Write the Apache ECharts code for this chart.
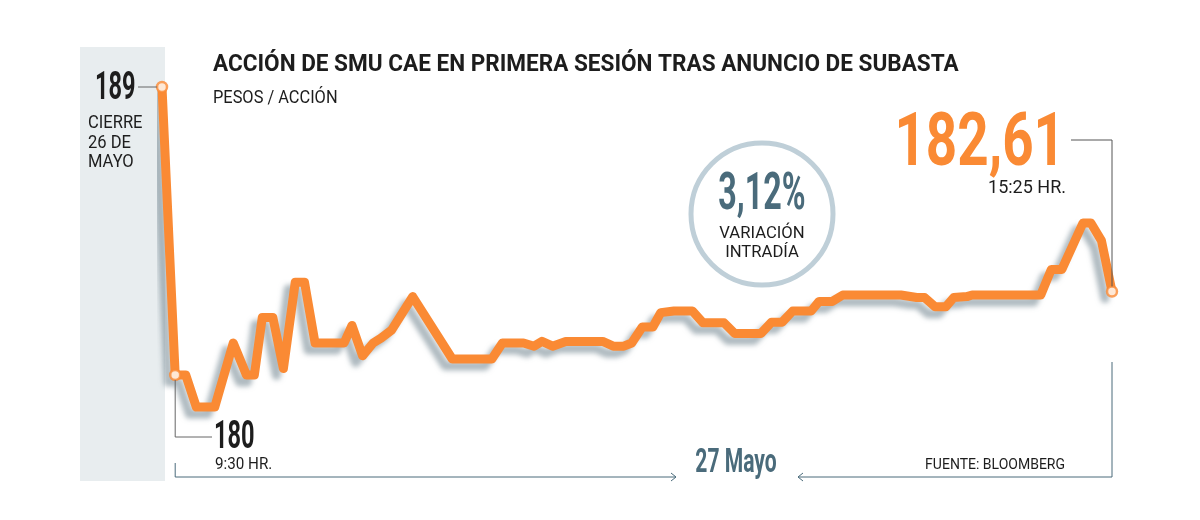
<!DOCTYPE html>
<html>
<head>
<meta charset="utf-8">
<script src="https://cdn.jsdelivr.net/npm/echarts@6/dist/echarts.min.js"></script>
<style>html,body{margin:0;padding:0;background:#fff}#c{width:1200px;height:520px}</style>
</head>
<body>
<div id="c"></div>
<script>
// minutes from market open (9:30); -5 = previous close (26 de mayo)
const minutes = [-5,0,4,8,15,22,27,30,33,37,41,45.5,49,53,64,67,71,75,78,82,90,105,120,124,132,136,139,143,148,162,166,170,173,177,181,184,189,196,200,208,212,222,226,230,234,241,244,249,253,275,281,284,288,292,295,300,302,328,332,336,344,347,351,355];
const prices = [189,180,180,179,179,181,180,180,181.8,181.8,180.2,182.9,182.9,181,181,181.55,180.6,181,181.15,181.4,182.45,180.5,180.5,181,181,180.9,181.05,180.9,181.05,181.05,180.9,180.9,181,181.5,181.5,181.95,182,182,181.63,181.63,181.3,181.3,181.65,181.65,182,182,182.3,182.3,182.5,182.5,182.42,182.42,182.13,182.13,182.42,182.45,182.5,182.5,183.3,183.3,184.75,184.75,184.2,182.61];
const titleText = 'ACCIÓN DE SMU CAE EN PRIMERA SESIÓN TRAS ANUNCIO DE SUBASTA';
const subtitleText = 'PESOS / ACCIÓN';
const closeLabel = '189';
const closeNote = 'CIERRE\n26 DE\nMAYO';
const openLabel = '180';
const openTime = '9:30 HR.';
const lastLabel = '182,61';
const lastTime = '15:25 HR.';
const variation = '3,12%';
const variationNote = 'VARIACIÓN\nINTRADÍA';
const dateLabel = '27 Mayo';
const sourceText = 'FUENTE: BLOOMBERG';

const ORANGE = '#FA8A34';
const SLATE = '#4a6b7b';
const DARK = '#1d1d1d';

const chart = echarts.init(document.getElementById('c'), null, {renderer: 'canvas'});
const lineData = minutes.map((m, i) => [m, prices[i]]);
const last = minutes.length - 1;
const markIdx = [0, 1, last];

chart.setOption({
  animation: false,
  backgroundColor: '#ffffff',
  grid: {left: 162, right: 88, top: 55, bottom: 81},
  xAxis: {type: 'value', min: -5, max: 355, show: false},
  yAxis: {type: 'value', min: 178, max: 190, show: false},
  series: [
    {
      type: 'line', data: lineData, showSymbol: false, z: 3,
      lineStyle: {color: ORANGE, width: 9, cap: 'round', join: 'round',
        shadowColor: 'rgba(110,130,140,0.55)', shadowBlur: 5, shadowOffsetX: -7, shadowOffsetY: 7}
    },
    {
      type: 'scatter', z: 5, data: markIdx.map(i => lineData[i]),
      symbol: 'circle', symbolSize: 10,
      itemStyle: {color: '#ffffff', borderColor: ORANGE, borderWidth: 2.5}
    }
  ]
});

const p0 = chart.convertToPixel({seriesIndex: 0}, lineData[0]);
const p1 = chart.convertToPixel({seriesIndex: 0}, lineData[1]);
const pL = chart.convertToPixel({seriesIndex: 0}, lineData[last]);

function txt(x, y, text, font, fill, opts) {
  opts = opts || {};
  return {
    type: 'text', x: x, y: y, scaleX: opts.sx || 1, z: 20,
    style: {text: text, font: font, fill: fill,
      textAlign: opts.align || 'left', align: opts.align || 'left',
      textVerticalAlign: opts.va || 'middle', verticalAlign: opts.va || 'middle',
      lineHeight: opts.lh}
  };
}
function seg(pts, color, w) {
  return {type: 'polyline', z: 15, shape: {points: pts}, style: {stroke: color || '#555', lineWidth: w || 1, fill: null}};
}
const axisY = 477;
const gr = [
  {type: 'rect', z: -10, shape: {x: 80, y: 47, width: 85, height: 434}, style: {fill: '#e8edef'}},
  txt(213, 65, titleText, 'bold 24px Roboto', DARK, {sx: 0.94}),
  txt(213, 98, subtitleText, '18px Roboto', DARK, {sx: 0.91}),
  txt(95, 89, closeLabel, 'bold 38px Roboto', DARK, {sx: 0.62}),
  txt(88, 143, closeNote, '18px Roboto', DARK, {sx: 0.92, lh: 19.5}),
  seg([[138, p0[1]], [p0[0] - 5, p0[1]]], '#666'),
  txt(214, 438, openLabel, 'bold 38px Roboto', DARK, {sx: 0.62}),
  txt(215, 465, openTime, '16px Roboto', DARK, {sx: 0.95}),
  seg([[p1[0], p1[1] + 5], [p1[0], 437], [212, 437]], '#666'),
  txt(1065, 146, lastLabel, 'bold 74px Roboto', ORANGE, {sx: 0.74, align: 'right'}),
  txt(1066, 188, lastTime, '18px Roboto', DARK, {sx: 1.0, align: 'right'}),
  seg([[pL[0], pL[1] - 5], [pL[0], 140], [1071, 140]], '#555'),
  {type: 'circle', z: 1, shape: {cx: 762, cy: 214, r: 71}, style: {fill: 'none', stroke: '#bfcfd8', lineWidth: 5}},
  txt(762, 196, variation, 'bold 52px Roboto', SLATE, {sx: 0.62, align: 'center'}),
  txt(762, 243, variationNote, '17px Roboto', DARK, {sx: 0.98, align: 'center', lh: 19.5}),
  txt(736, 463, dateLabel, 'bold 34px Roboto', SLATE, {sx: 0.62, align: 'center'}),
  txt(1065, 465, sourceText, '14px Roboto', DARK, {sx: 1.0, align: 'right'}),
  seg([[p1[0], 463], [p1[0], axisY], [676, axisY]], SLATE),
  seg([[671, axisY - 4], [676, axisY], [671, axisY + 4]], SLATE),
  seg([[798, axisY], [pL[0], axisY], [pL[0], 362]], SLATE),
  seg([[803, axisY - 4], [798, axisY], [803, axisY + 4]], SLATE)
];
chart.setOption({graphic: gr});
</script>
</body>
</html>
